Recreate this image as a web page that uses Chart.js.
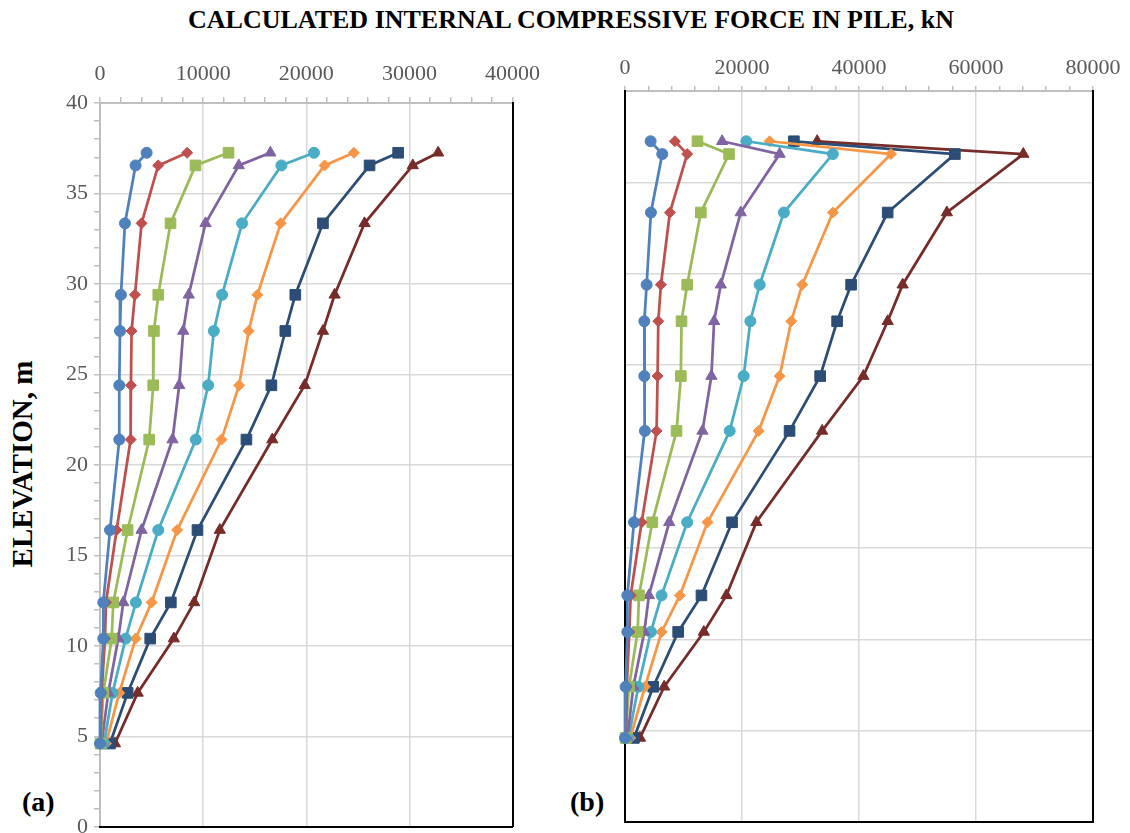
<!DOCTYPE html>
<html>
<head>
<meta charset="utf-8">
<script src="https://cdn.jsdelivr.net/npm/chart.js@4.4.1/dist/chart.umd.min.js"></script>
<style>
  html, body { margin: 0; padding: 0; background: #fff; overflow: hidden; }
  body { width: 1130px; height: 833px; position: relative; font-family: "Liberation Serif", serif; }
  canvas { position: absolute; }
  #chartA { left: 0; top: 40px; }
  #chartB { left: 560px; top: 40px; }
  .title { position: absolute; top: 5px; left: 0; width: 1142px; text-align: center; font-weight: bold; font-size: 26px; color: #000; }
  .ylab { position: absolute; left: 22px; top: 464px; transform: translate(-50%, -50%) rotate(-90deg); font-weight: bold; font-size: 29px; white-space: nowrap; }
  .panel { position: absolute; font-weight: bold; font-size: 28px; }
</style>
</head>
<body>
<div class="title">CALCULATED INTERNAL COMPRESSIVE FORCE IN PILE, kN</div>
<div class="ylab">ELEVATION, m</div>
<div class="panel" style="left:22px; top:786px;">(a)</div>
<div class="panel" style="left:570px; top:786px;">(b)</div>
<canvas id="chartA" width="550" height="806"></canvas>
<canvas id="chartB" width="570" height="800"></canvas>
<script>
// Elevations (m) of the calculation points, top to bottom
const elevations = [37.25, 36.55, 33.35, 29.4, 27.4, 24.4, 21.4, 16.4, 12.4, 10.4, 7.4, 4.6];

// Panel (a): compressive force, kN
const forceA1 = [4520, 3450, 2420, 2030, 1940, 1870, 1870, 970, 320, 320, 60, 0];
const forceA2 = [8450, 5650, 4030, 3390, 3060, 3000, 2970, 1610, 580, 480, 160, 40];
const forceA3 = [12460, 9260, 6840, 5650, 5230, 5160, 4770, 2680, 1290, 1130, 320, 50];
const forceA4 = [16520, 13460, 10230, 8610, 8070, 7680, 7030, 4030, 2260, 1770, 800, 150];
const forceA5 = [20750, 17590, 13780, 11840, 11040, 10490, 9290, 5650, 3480, 2480, 1220, 390];
const forceA6 = [24620, 21780, 17520, 15260, 14420, 13490, 11780, 7480, 5000, 3450, 1870, 580];
const forceA7 = [28910, 26140, 21620, 18940, 17970, 16620, 14200, 9450, 6870, 4870, 2680, 970];
const forceA8 = [32790, 30330, 25650, 22750, 21620, 19850, 16710, 11620, 9130, 7160, 3650, 1450];

// Panel (b): compressive force, kN
const forceB1 = [4380, 6370, 4430, 3700, 3300, 3300, 3410, 1530, 400, 400, 100, 0];
const forceB2 = [8530, 10630, 7670, 6140, 5690, 5570, 5400, 2840, 970, 740, 300, 200];
const forceB3 = [12390, 17790, 12960, 10630, 9660, 9550, 8810, 4660, 2390, 2160, 680, 100];
const forceB4 = [16600, 26430, 19780, 16370, 15230, 14770, 13240, 7560, 4090, 3300, 1420, 400];
const forceB5 = [20740, 35530, 27160, 23020, 21430, 20290, 17900, 10630, 6250, 4430, 2270, 600];
const forceB6 = [24720, 45470, 35530, 30300, 28420, 26430, 22850, 14100, 9380, 6250, 3410, 900];
const forceB7 = [28870, 56390, 44900, 38650, 36260, 33360, 28130, 18300, 13070, 9090, 4830, 1530];
const forceB8 = [32850, 68090, 55020, 47460, 44900, 40750, 33700, 22450, 17330, 13470, 6700, 2560];

const seriesNames = ['Series 1', 'Series 2', 'Series 3', 'Series 4', 'Series 5', 'Series 6', 'Series 7', 'Series 8'];
const colors = ['#4F81BD', '#C0504D', '#9BBB59', '#8064A2', '#4BACC6', '#F79646', '#2C4D75', '#772C2A'];
const markers = ['circle', 'rectRot', 'rect', 'triangle', 'circle', 'rectRot', 'rect', 'triangle'];
const markerSize = { circle: 5.5, rectRot: 5.5, rect: 7.5, triangle: 6.5 };

const FONT = 'Liberation Serif';
const tickFont = { family: FONT, size: 22 };

function makeDatasets(forces) {
    return forces.map((f, i) => ({
        label: seriesNames[i],
        data: f.map((v, j) => ({ x: v, y: elevations[j] })),
        showLine: true,
        borderColor: colors[i],
        backgroundColor: colors[i],
        borderWidth: 2.75,
        pointStyle: markers[i],
        pointRadius: markerSize[markers[i]],
        pointBorderWidth: 1,
        pointBorderColor: colors[i],
        pointBackgroundColor: colors[i],
        clip: false
    }));
}

// frame lines drawn as empty axes
function frameAxis(position, min, max, fit) {
    return {
        type: 'linear', position: position, min: min, max: max,
        ticks: { display: false },
        grid: { display: false },
        border: { display: true, color: '#000', width: 2 },
        afterFit: fit
    };
}

// Chart (a)
new Chart(document.getElementById('chartA'), {
    type: 'scatter',
    data: { datasets: makeDatasets([forceA1, forceA2, forceA3, forceA4, forceA5, forceA6, forceA7, forceA8]) },
    options: {
        responsive: false,
        animation: false,
        layout: { padding: { left: 0, right: 37, top: 0, bottom: 14 } },
        plugins: { legend: { display: false }, tooltip: { enabled: false } },
        scales: {
            x: {
                type: 'linear', position: 'top', min: 0, max: 40000,
                ticks: {
                    stepSize: 2000, autoSkip: false, maxRotation: 0, padding: 10,
                    color: '#595959', font: tickFont,
                    callback: v => (v % 10000 === 0 ? String(v) : '')
                },
                grid: {
                    color: c => (c.tick && c.tick.value % 10000 === 0 ? '#d9d9d9' : 'rgba(0,0,0,0)'),
                    lineWidth: 1.5, tickColor: '#bfbfbf', tickLength: 6, tickWidth: 1.5
                },
                border: { color: '#bfbfbf', width: 2 },
                afterFit: s => { s.height = 63; }
            },
            y: {
                type: 'linear', position: 'left', min: 0, max: 40,
                ticks: {
                    stepSize: 1, autoSkip: false, padding: 6,
                    color: '#595959', font: tickFont,
                    callback: v => (v % 5 === 0 ? String(v) : '')
                },
                grid: {
                    color: c => (c.tick && c.tick.value % 5 === 0 ? '#d9d9d9' : 'rgba(0,0,0,0)'),
                    lineWidth: 1.5, tickColor: '#bfbfbf', tickLength: 6, tickWidth: 1.5
                },
                border: { color: '#bfbfbf', width: 2 },
                afterFit: s => { s.width = 100; }
            },
            x2: frameAxis('bottom', 0, 40000, s => { s.height = 0; }),
            y2: frameAxis('right', 0, 40, s => { s.width = 0; })
        }
    }
});

// Chart (b)
new Chart(document.getElementById('chartB'), {
    type: 'scatter',
    data: { datasets: makeDatasets([forceB1, forceB2, forceB3, forceB4, forceB5, forceB6, forceB7, forceB8]) },
    options: {
        responsive: false,
        animation: false,
        layout: { padding: { left: 65, right: 37, top: 0, bottom: 18 } },
        plugins: { legend: { display: false }, tooltip: { enabled: false } },
        scales: {
            x: {
                type: 'linear', position: 'top', min: 0, max: 80000,
                ticks: {
                    stepSize: 4000, autoSkip: false, maxRotation: 0, padding: 5,
                    color: '#595959', font: tickFont,
                    callback: v => (v % 20000 === 0 ? String(v) : '')
                },
                grid: {
                    color: c => (c.tick && c.tick.value % 20000 === 0 ? '#d9d9d9' : 'rgba(0,0,0,0)'),
                    lineWidth: 1.5, tickColor: '#bfbfbf', tickLength: 5, tickWidth: 1.5
                },
                border: { color: '#bfbfbf', width: 2 },
                afterFit: s => { s.height = 51; }
            },
            y: {
                type: 'linear', position: 'left', min: 0, max: 40,
                ticks: { display: false, stepSize: 5 },
                grid: { color: '#d9d9d9', lineWidth: 1.5, drawTicks: false },
                border: { color: '#000', width: 2 },
                afterFit: s => { s.width = 0; }
            },
            x2: frameAxis('bottom', 0, 80000, s => { s.height = 0; }),
            y2: frameAxis('right', 0, 40, s => { s.width = 0; })
        }
    }
});
</script>
</body>
</html>
